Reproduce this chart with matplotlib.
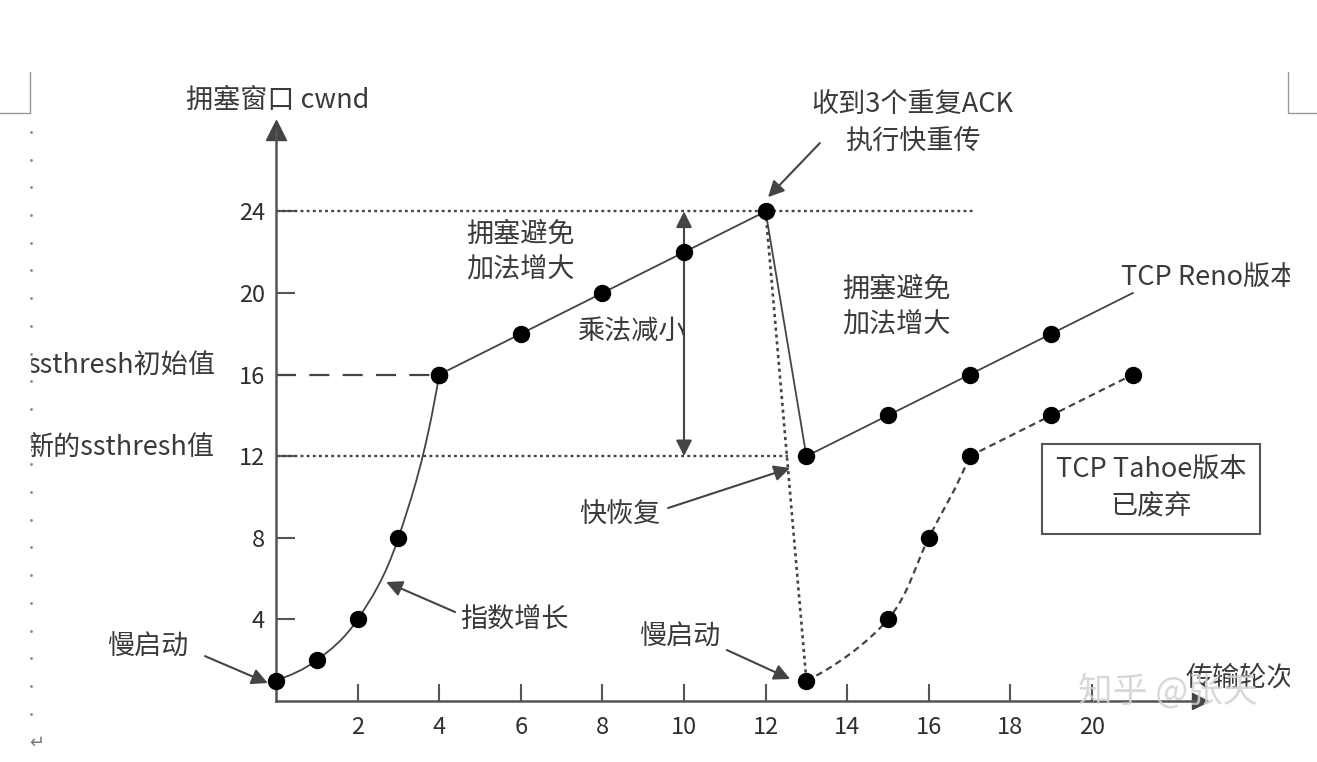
import numpy as np
import matplotlib.pyplot as plt
from matplotlib.path import Path
from matplotlib.patches import PathPatch, Rectangle
from matplotlib.lines import Line2D

plt.rcParams['font.family'] = ['Noto Sans CJK SC', 'DejaVu Sans']

# slow start, then congestion avoidance
ss_x = [0, 1, 2, 3, 4]
ss_y = [1, 2, 4, 8, 16]
ca_x = [4, 6, 8, 10, 12]
ca_y = [16, 18, 20, 22, 24]

# TCP Reno after 3 dup ACKs (fast recovery)
reno_x = [13, 15, 17, 19]
reno_y = [12, 14, 16, 18]
reno_end = (21, 20)

# TCP Tahoe: back to slow start
tahoe_curve_x = [13, 15, 16, 17]
tahoe_curve_y = [1, 4, 8, 12]
tahoe_x = [17, 19, 21]
tahoe_y = [12, 14, 16]

ssthresh_init = 16
ssthresh_new = 12
cwnd_max = 24

xticks = [2, 4, 6, 8, 10, 12, 14, 16, 18, 20]
yticks = [4, 8, 12, 16, 20, 24]

LINE = '#444444'
TXT = '#3a3a3a'
FS = 19.5


def smooth_path(xs, ys):
    # Catmull-Rom through the points, drawn as cubic beziers;
    # end tangents come from a geometric continuation of the series
    pts = np.column_stack([xs, ys]).astype(float)
    first = [2 * pts[0, 0] - pts[1, 0], pts[0, 1] ** 2 / pts[1, 1]]
    last = [2 * pts[-1, 0] - pts[-2, 0], pts[-1, 1] ** 2 / pts[-2, 1]]
    p = np.vstack([first, pts, last])
    verts = [pts[0]]
    codes = [Path.MOVETO]
    for i in range(1, len(p) - 2):
        c1 = p[i] + (p[i + 1] - p[i - 1]) / 6
        c2 = p[i + 1] - (p[i + 2] - p[i]) / 6
        verts += [c1, c2, p[i + 1]]
        codes += [Path.CURVE4] * 3
    return Path(verts, codes)


W, H = 1317, 762
px0, py0 = 276, 701      # pixel position of the origin
ux, uy = 40.8, 20.4      # pixels per data unit
fig = plt.figure(figsize=(W / 100, H / 100), dpi=100)
ax = fig.add_axes([px0 / W, (H - py0) / H, (1200 - px0) / W, (py0 - 130) / H])
ax.set_xlim(0, (1200 - px0) / ux)
ax.set_ylim(0, (py0 - 130) / uy)

for s in ['top', 'right']:
    ax.spines[s].set_visible(False)
for s in ['left', 'bottom']:
    ax.spines[s].set_color('#555555')
    ax.spines[s].set_linewidth(1.8)
ax.plot(1, 0, '>', ms=12, color='#444444', transform=ax.transAxes, clip_on=False)
ax.plot(0, 1, '^', ms=14, color='#444444', transform=ax.transAxes, clip_on=False)

ax.set_xticks(xticks)
ax.set_yticks(yticks)
ax.tick_params(axis='x', direction='in', length=12, width=1.5, color='#555555',
               labelsize=17, labelcolor='#2e2e2e', pad=11)
ax.tick_params(axis='y', direction='in', length=14, width=1.5, color='#555555',
               labelsize=17, labelcolor='#2e2e2e', pad=8)
for lab in ax.get_xticklabels() + ax.get_yticklabels():
    lab.set_fontweight('medium')

# guide lines
dot = (0, (1.2, 1.4))
ax.plot([0, 17.1], [cwnd_max, cwnd_max], ls=dot, lw=1.7, color=LINE)
ax.plot([0, 12.55], [ssthresh_new, ssthresh_new], ls=dot, lw=1.7, color=LINE)
ax.plot([0, ss_x[-1]], [ssthresh_init, ssthresh_init], ls=(0, (9, 6)), lw=1.6, color=LINE)

# slow start curve
ax.add_patch(PathPatch(smooth_path(ss_x, ss_y), fill=False, ec=LINE, lw=1.3, clip_on=False))
# congestion avoidance
ax.plot(ca_x, ca_y, '-', lw=1.3, color=LINE)
# Reno drop and growth
ax.plot([ca_x[-1]] + reno_x + [reno_end[0]], [ca_y[-1]] + reno_y + [reno_end[1]],
        '-', lw=1.3, color=LINE)
# Tahoe drop and slow start
ax.plot([ca_x[-1], tahoe_curve_x[0]], [ca_y[-1], tahoe_curve_y[0]], ls=dot, lw=1.9, color=LINE)
ax.add_patch(PathPatch(smooth_path(tahoe_curve_x, tahoe_curve_y), fill=False, ec=LINE,
                       lw=1.6, ls=(0, (3, 2))))
ax.plot(tahoe_x, tahoe_y, ls=(0, (3, 2)), lw=1.6, color=LINE)

# points
mk = dict(marker='o', ms=11.5, color='black', ls='none', zorder=5, clip_on=False)
ax.plot(ss_x, ss_y, **mk)
ax.plot(ca_x, ca_y, **mk)
ax.plot(reno_x, reno_y, **mk)
ax.plot(tahoe_curve_x + tahoe_x[1:], tahoe_curve_y + tahoe_y[1:], **mk)

arr = dict(arrowstyle='-|>', color=LINE, lw=1.5, mutation_scale=24, shrinkA=0, shrinkB=0)


def arrow(tail, head):
    ax.annotate('', xy=head, xytext=tail, arrowprops=arr, annotation_clip=False)


# texts
txt = dict(fontsize=FS, color=TXT, ha='center', va='center', linespacing=1.45)
ax.text(0.05, 29.45, '拥塞窗口 cwnd', clip_on=False, **txt)
ax.text(15.6, 28.3, '收到3个重复ACK\n执行快重传', clip_on=False, **txt)
arrow((13.33, 27.35), (12.06, 24.7))
ax.text(6.0, 22.0, '拥塞避免\n加法增大', **txt)
ax.text(8.7, 18.1, '乘法减小', **txt)
arrow((10, 18), (10, cwnd_max))
arrow((10, 18), (10, ssthresh_new))
ax.text(15.2, 19.3, '拥塞避免\n加法增大', **txt)
ax.text(20.7, 20.7, 'TCP Reno版本', fontsize=FS, color=TXT, ha='left', va='center', clip_on=False)
ax.text(21.45, 10.4, 'TCP Tahoe版本\n已废弃', fontsize=FS, color=TXT, ha='center', va='center',
        linespacing=1.45, clip_on=False,
        bbox=dict(boxstyle='square,pad=0.5', fc='white', ec='#555555', lw=1.5))
ax.text(8.43, 9.1, '快恢复', **txt)
arrow((9.61, 9.46), (12.6, 11.42))
ax.text(9.9, 3.15, '慢启动', **txt)
arrow((11.05, 2.5), (12.6, 1.08))
ax.text(-3.14, 2.65, '慢启动', clip_on=False, **txt)
arrow((-1.74, 2.2), (-0.2, 0.88))
ax.text(5.85, 3.97, '指数增长', **txt)
arrow((4.39, 4.36), (2.7, 5.83))
ax.text(-1.5, 16.4, 'ssthresh初始值', fontsize=FS, color=TXT, ha='right', va='center', clip_on=False)
ax.text(-1.5, 12.4, '新的ssthresh值', fontsize=FS, color=TXT, ha='right', va='center', clip_on=False)
ax.text(22.3, 1.1, '传输轮次', fontsize=FS, color=TXT, ha='left', va='center', clip_on=False)
# faint watermark of the source site
ax.text(21.85, 0.45, '知乎 @张天', fontsize=25, color='#d2d2d2', alpha=0.85,
        ha='center', va='center', clip_on=False, zorder=6)

# page edges of the original document screenshot
fig.add_artist(Rectangle((0, 0), 30 / W, 1, transform=fig.transFigure, color='white', zorder=10))
fig.add_artist(Rectangle((1290 / W, 0), 1, 1, transform=fig.transFigure, color='white', zorder=10))
edge = dict(transform=fig.transFigure, color='#999999', lw=1, zorder=11)
fig.add_artist(Line2D([30 / W, 30 / W, 0], [1 - 72 / H, 1 - 113 / H, 1 - 113 / H], **edge))
fig.add_artist(Line2D([1288 / W, 1288 / W, 1], [1 - 72 / H, 1 - 113 / H, 1 - 113 / H], **edge))
dots_y = np.arange(132, 716, 27.7)
fig.add_artist(Line2D(np.full(len(dots_y), 31 / W), 1 - dots_y / H, ls='none', marker='.',
                      ms=2, color='#888888', transform=fig.transFigure, zorder=11))
fig.text(37 / W, 1 - 743 / H, '↵', fontsize=13, color='#777777', ha='center', va='center',
         family=['DejaVu Sans'], zorder=11)

fig.savefig('out.png', dpi=100)
